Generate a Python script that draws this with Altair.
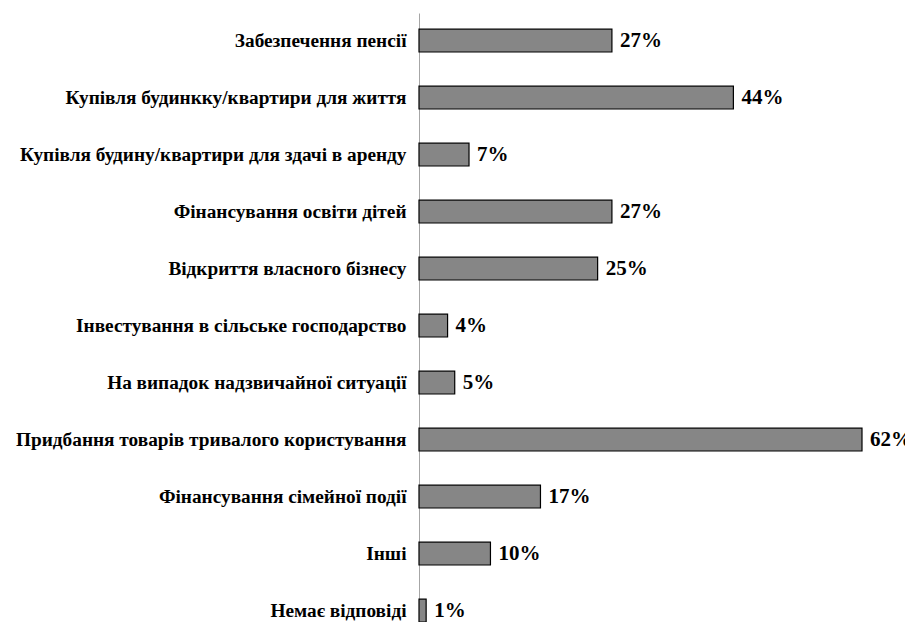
import altair as alt
import pandas as pd

categories = [
    "Забезпечення пенсії",
    "Купівля будинкку/квартири для життя",
    "Купівля будину/квартири для здачі в аренду",
    "Фінансування освіти дітей",
    "Відкриття власного бізнесу",
    "Інвестування в сільське господарство",
    "На випадок надзвичайної ситуації",
    "Придбання товарів тривалого користування",
    "Фінансування сімейної події",
    "Інші",
    "Немає відповіді",
]
values = [27, 44, 7, 27, 25, 4, 5, 62, 17, 10, 1]

df = pd.DataFrame({"cat": categories, "val": values})
df["label"] = df["val"].astype(str) + "%"

FONT = "Times New Roman, Liberation Serif, DejaVu Serif, serif"

y = alt.Y(
    "cat:N",
    sort=categories,
    title=None,
    scale=alt.Scale(paddingInner=0.6, paddingOuter=0.142, align=1),
    axis=alt.Axis(
        ticks=False,
        labelFont=FONT,
        labelFontSize=19.3,
        labelFontWeight="bold",
        labelColor="black",
        labelPadding=13,
        labelLimit=600,
        domainColor="#a6a6a6",
        domainWidth=1,
        grid=False,
    ),
)
x = alt.X("val:Q", scale=alt.Scale(domain=[0, 62], nice=False), axis=None)

bars = alt.Chart(df).mark_bar(
    fill="#868686", stroke="black", strokeWidth=1.2
).encode(x=x, y=y)

text = alt.Chart(df).mark_text(
    align="left", baseline="middle", dx=8, font=FONT, fontSize=21,
    fontWeight="bold", color="black"
).encode(x=x, y=y, text="label:N")

chart = (bars + text).properties(
    width=443,
    height=609,
    background="white",
    autosize=alt.AutoSizeParams(type="none"),
    padding={"left": 411, "top": 5, "right": 43, "bottom": 0},
).configure_view(stroke=None, strokeWidth=0)

chart.save("out.html", embed_options={"renderer": "svg", "actions": False})
